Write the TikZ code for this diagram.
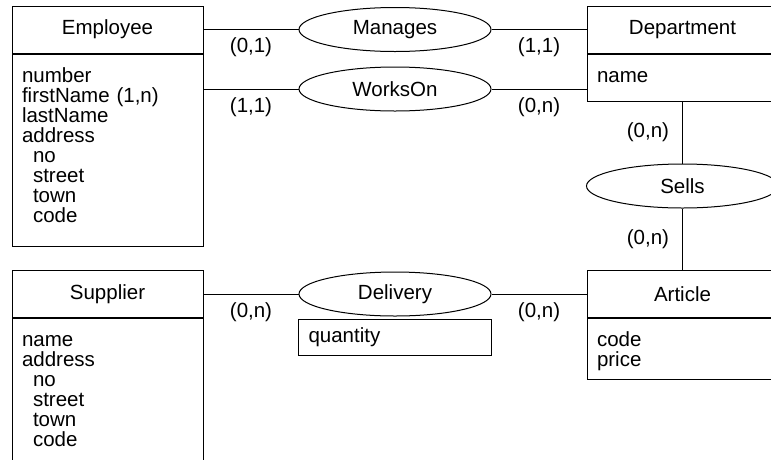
\documentclass[tikz,border=0pt]{standalone}
\usepackage{fontspec}
\setmainfont{Liberation Sans}
\usetikzlibrary{positioning,shapes.geometric}
\tikzset{
  erfont/.style={font=\fontsize{20.5pt}{20pt}\selectfont},
  enthead/.style={draw,erfont,line width=1pt,minimum width=191pt,
    minimum height=47pt,inner sep=0pt},
  entattr/.style={draw,erfont,line width=1pt,text width=171pt,
    inner xsep=10pt,inner ysep=0pt,align=left,text height=28pt},
  relship/.style={ellipse,draw,erfont,line width=1pt,minimum width=192pt,
    minimum height=44pt,inner sep=0pt},
  relattr/.style={draw,erfont,line width=1pt,minimum width=193pt,
    minimum height=36pt,text width=173pt,inner xsep=10pt,align=left},
  erline/.style={line width=1pt},
  card/.style={erfont,inner sep=0pt},
}

\begin{document}
\begin{tikzpicture}[x=1pt,y=-1pt]
  \useasboundingbox (0,0) rectangle (771,459);
  \clip (0,0) rectangle (771,459);
  % entities
  \node[enthead] (emp) at (107.5,29.5) {Employee};
  \node[entattr,text depth=164pt,below=0pt of emp] (empattr) {number\\
    firstName (1,n)\\lastName\\address\\\hspace*{11pt}no\\
    \hspace*{11pt}street\\\hspace*{11pt}town\\\hspace*{11pt}code};
  \node[enthead] (dept) at (682.5,29.5) {Department};
  \node[entattr,text depth=19pt,below=0pt of dept] (deptattr) {name};
  \node[enthead] (sup) at (107.5,294) {Supplier};
  \node[entattr,text depth=150pt,below=0pt of sup] (supattr) {name\\
    address\\\hspace*{11pt}no\\\hspace*{11pt}street\\
    \hspace*{11pt}town\\\hspace*{11pt}code};
  \node[enthead] (art) at (682.5,294) {Article};
  \node[entattr,text depth=32.5pt,below=0pt of art] (artattr) {code\\price};
  % relationships
  \node[relship] (manages) at (395,29.5) {Manages};
  \node[relship] (workson) at (395,89) {WorksOn};
  \node[relship] (sells) at (682.5,186) {Sells};
  \node[relship] (delivery) at (395,294) {Delivery};
  \node[relattr,below=2pt of delivery] (quantity) {quantity};
  % connectors
  \draw[erline] (emp) -- node[card,below=8pt] {(0,1)} (manages);
  \draw[erline] (manages) -- node[card,below=8pt] {(1,1)} (dept);
  \draw[erline] (workson.west -| empattr.east) -- node[card,below=8pt] {(1,1)} (workson);
  \draw[erline] (workson) -- node[card,below=8pt] {(0,n)} (workson.east -| deptattr.west);
  \draw[erline] (deptattr) -- node[card,left=13pt] {(0,n)} (sells);
  \draw[erline] (sells) -- node[card,left=13pt] {(0,n)} (art);
  \draw[erline] (sup) -- node[card,below=8pt] {(0,n)} (delivery);
  \draw[erline] (delivery) -- node[card,below=8pt] {(0,n)} (art);
\end{tikzpicture}
\end{document}
